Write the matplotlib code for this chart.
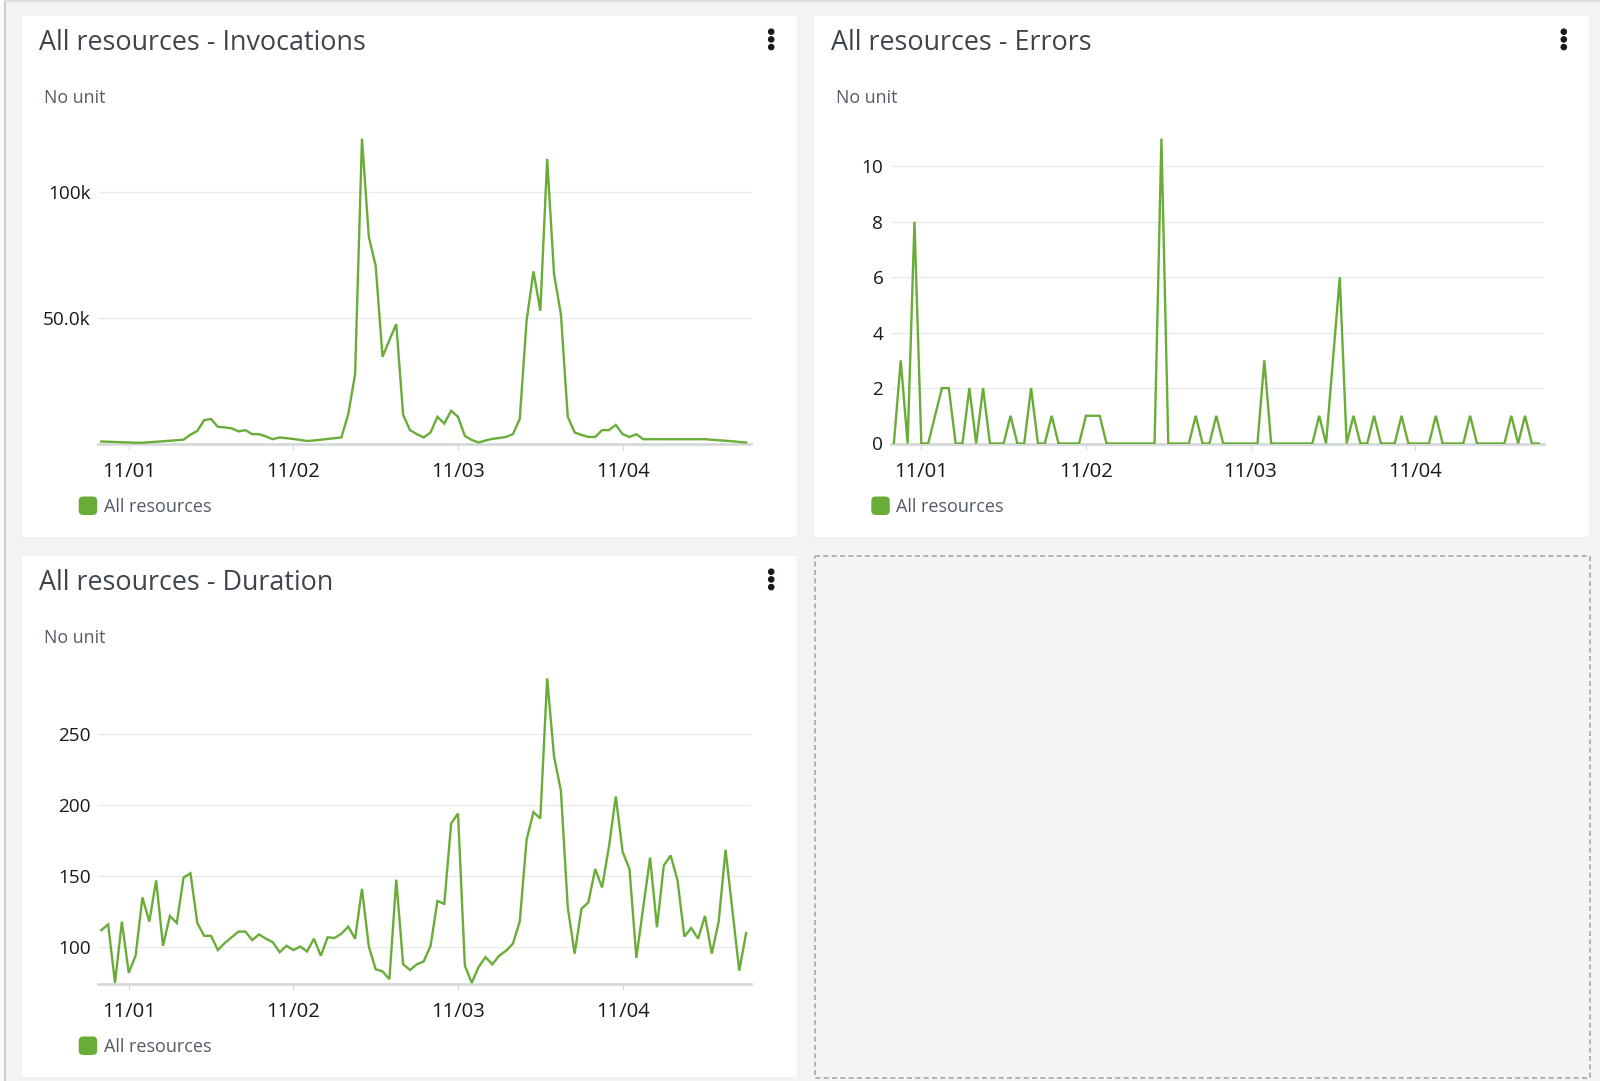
import numpy as np
import pandas as pd
import matplotlib.pyplot as plt
import matplotlib.dates as mdates
from matplotlib.patches import Rectangle, FancyBboxPatch, Circle

# ======================================
# data (hourly points, 10/31 20:00 -> 11/04 18:00)
# ======================================
START_TIME = "2021-10-31 20:00"
N_POINTS = 95
SERIES_NAME = "All resources"
UNIT_LABEL = "No unit"

INVOCATIONS_K = [
    0.8, 0.7, 0.6, 0.5, 0.4, 0.3, 0.3, 0.5, 0.7, 0.9,
    1.1, 1.3, 1.5, 3.5, 5.0, 9.3, 9.7, 6.6, 6.4, 6.0,
    4.8, 5.3, 3.7, 3.7, 2.8, 1.7, 2.4, 2.1, 1.8, 1.4,
    1.0, 1.2, 1.5, 1.8, 2.1, 2.4, 11.6, 27.5, 121.0, 82.0,
    70.5, 34.4, 41.0, 47.4, 11.4, 5.3, 3.7, 2.4, 4.4, 10.6,
    7.9, 13.0, 10.6, 3.0, 1.4, 0.4, 1.2, 1.8, 2.2, 2.6,
    3.7, 9.7, 48.7, 68.3, 52.7, 112.9, 67.2, 51.3, 10.6, 4.4,
    3.4, 2.6, 2.6, 5.3, 5.3, 7.4, 3.7, 2.6, 3.7, 1.7,
    1.7, 1.7, 1.7, 1.7, 1.7, 1.7, 1.7, 1.7, 1.7, 1.5,
    1.3, 1.1, 0.9, 0.6, 0.4,
]

ERRORS = [
    0, 3, 0, 8, 0, 0, 1, 2, 2, 0,
    0, 2, 0, 2, 0, 0, 0, 1, 0, 0,
    2, 0, 0, 1, 0, 0, 0, 0, 1, 1,
    1, 0, 0, 0, 0, 0, 0, 0, 0, 11,
    0, 0, 0, 0, 1, 0, 0, 1, 0, 0,
    0, 0, 0, 0, 3, 0, 0, 0, 0, 0,
    0, 0, 1, 0, 3, 6, 0, 1, 0, 0,
    1, 0, 0, 0, 1, 0, 0, 0, 0, 1,
    0, 0, 0, 0, 1, 0, 0, 0, 0, 0,
    1, 0, 1, 0, 0,
]

DURATION = [
    112, 116, 75, 118, 82, 94, 135, 118, 147, 101,
    122, 117, 149, 152, 117, 108, 108, 98, 103, 107,
    111, 111, 105, 109, 106, 103.5, 96.5, 101, 98, 100.5,
    97, 106, 94, 107, 106.5, 109.5, 114.5, 106, 141, 100.5,
    84.5, 83, 77.5, 147.5, 88, 84, 88, 90, 101, 132.5,
    130.5, 187, 194, 87, 75, 86, 93, 88, 94, 97.5,
    102.5, 118, 175.5, 195, 190.5, 289, 234, 210, 128, 95.5,
    127, 131.5, 155, 142, 170.5, 206, 167, 155, 92.5, 128,
    163, 114, 157.5, 164.5, 147, 107.5, 113.5, 106, 122, 95.5,
    118, 168.5, 126, 83.5, 110,
]

DAY_TICKS = ["2021-11-01", "2021-11-02", "2021-11-03", "2021-11-04"]

INV_TICKS = [50, 100]
INV_TICK_LABELS = ["50.0k", "100k"]
ERR_TICKS = [0, 2, 4, 6, 8, 10]
DUR_TICKS = [100, 150, 200, 250]

# ======================================
# style
# ======================================
W, H = 1600, 1081
BG = "#f2f3f3"
GREEN = "#69ad38"
GRID = "#e9ebeb"
AXIS = "#d5d9d9"
TITLE_C = "#3f454c"
SUB_C = "#545b64"
TICK_C = "#16191f"

plt.rcParams["font.family"] = ["Open Sans", "DejaVu Sans"]

fig = plt.figure(figsize=(W / 100, H / 100), dpi=100)
fig.patch.set_facecolor(BG)

# background axes in pixel coordinates
bg = fig.add_axes([0, 0, 1, 1])
bg.set_xlim(0, W)
bg.set_ylim(H, 0)
bg.axis("off")
bg.add_patch(Rectangle((0, 0), 5, H, facecolor="#fafafa", edgecolor="none"))
bg.plot([5, 5], [0, H], color="#c4c4c4", lw=1.2)
bg.plot([5, W], [1, 1], color="#dedede", lw=1.5)

PANEL_W, PANEL_H = 776, 522
PLOT_X0, PLOT_X1 = 77.7, 730.7
PLOT_Y0, PLOT_Y1 = 113, 428.5

times = pd.date_range(START_TIME, periods=N_POINTS, freq="h")
tnum = mdates.date2num(times)
xlim = (tnum[0] - 0.42 / 24, tnum[-1] + 0.77 / 24)


def panel(px, py, title, values, ylim, ticks, tick_labels):
    bg.add_patch(Rectangle((px, py), PANEL_W, PANEL_H, facecolor="white",
                           edgecolor="#eceeee", lw=0.5))
    bg.text(px + 18.0, py + 35, title, fontsize=19.4, color=TITLE_C, va="baseline")
    bg.text(px + 22.8, py + 87.7, UNIT_LABEL, fontsize=12.8, color=SUB_C, va="baseline")
    for dy in (16.7, 24.4, 32.1):
        bg.add_patch(Circle((px + 750.5, py + dy), 2.6, color="#16191f"))
    # legend
    bg.add_patch(FancyBboxPatch((px + 59.5, py + 483), 15.5, 15.5,
                                boxstyle="round,pad=1.5,rounding_size=4.5",
                                facecolor=GREEN, edgecolor="none"))
    bg.text(px + 83.0, py + 492, SERIES_NAME, fontsize=13, color=SUB_C, va="center")

    x0, x1 = px + PLOT_X0, px + PLOT_X1
    y0, y1 = py + PLOT_Y0, py + PLOT_Y1
    ax = fig.add_axes([x0 / W, 1 - y1 / H, (x1 - x0) / W, (y1 - y0) / H])
    ax.patch.set_alpha(0)
    ax.plot(tnum, values, color=GREEN, lw=1.7, solid_joinstyle="miter", zorder=3)
    ax.set_xlim(*xlim)
    ax.set_ylim(*ylim)
    for s in ("left", "top", "right"):
        ax.spines[s].set_visible(False)
    ax.spines["bottom"].set_color(AXIS)
    ax.spines["bottom"].set_linewidth(2)
    ax.spines["bottom"].set_zorder(2)

    ax.set_yticks(ticks)
    ax.set_yticklabels(tick_labels)
    ax.yaxis.grid(True, color=GRID, lw=1)
    ax.set_axisbelow(True)
    ax.tick_params(axis="y", length=0, pad=5.5, labelsize=13.7, labelcolor=TICK_C)

    ax.set_xticks(mdates.date2num(pd.to_datetime(DAY_TICKS)))
    ax.xaxis.set_major_formatter(mdates.DateFormatter("%m/%d"))
    ax.tick_params(axis="x", length=4.5, width=0.8, color=AXIS, pad=9,
                   labelsize=14.6, labelcolor=TICK_C)
    return ax


panel(20.7, 15, "All resources - Invocations", INVOCATIONS_K, (0, 125.2),
      INV_TICKS, INV_TICK_LABELS)
panel(813.3, 15, "All resources - Errors", ERRORS, (0, 11.38),
      ERR_TICKS, [str(t) for t in ERR_TICKS])
panel(20.7, 555, "All resources - Duration", DURATION, (74.5, 296.3),
      DUR_TICKS, [str(t) for t in DUR_TICKS])

# empty dashed slot
bg.add_patch(Rectangle((814.5, 555.5), 775.5, 522, facecolor="#f4f4f4",
                       edgecolor="#a8a8a8", lw=1.2, linestyle=(0, (3, 2))))

fig.savefig("out.png", dpi=100, facecolor=fig.get_facecolor())
